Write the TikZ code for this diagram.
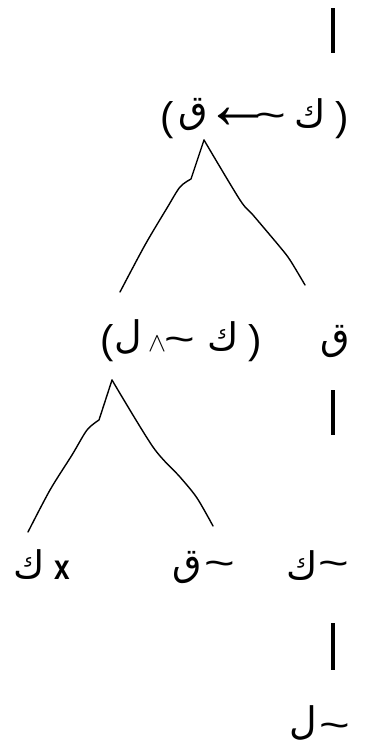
\documentclass[tikz,border=0pt]{standalone}
\usepackage{fontspec}
\usepackage{graphicx}
\setmainfont{Liberation Sans}
\newfontfamily\arabicfont[Script=Arabic]{DejaVu Sans}
\newcommand{\tld}{\scalebox{1.75}[1.3]{\char"007E}}
\tikzset{
  ar/.style={font=\arabicfont\fontsize{38}{46}\selectfont, inner sep=0pt, anchor=center},
  lat/.style={font=\fontsize{40}{48}\selectfont, inner sep=0pt, anchor=center},
  xl/.style={font=\bfseries\fontsize{28}{34}\selectfont, inner sep=0pt, anchor=center},
  sym/.style={inner sep=0pt, anchor=center},
  tl/.style={font=\fontsize{30}{36}\selectfont, inner sep=0pt, anchor=center},
  arr/.style={font=\fontsize{40}{48}\selectfont, inner sep=0pt, anchor=center},
  vbar/.style={line width=4pt},
  branch/.style={line width=1.4pt, line join=round, line cap=round},
}
\begin{document}
\begin{tikzpicture}[x=1pt,y=-1pt]
\useasboundingbox (0,0) rectangle (367,744);
% bar 1
\coordinate (b1t) at (333,8); \coordinate (b1b) at (333,53);
\draw[vbar] (b1t) -- (b1b);
% row 1
\node[lat] (r1p1) at (167,120) {(};
\node[ar]  (r1q)  at (193,115) {ق};
\node[arr] (r1ar) at (238,118) {\scalebox{1.7}[1.8]{←}};
\node[tl]  (r1t)  at (271,121) {\tld};
\node[ar]  (r1k)  at (310,114) {ك};
\node[lat] (r1p2) at (342,120) {)};
% tree 1
\coordinate (t1a) at (204,140);
\coordinate (t1k) at (191,179);
\draw[branch] (t1a) -- (t1k) plot[smooth, tension=0.5] coordinates {(191,179) (180,187) (167,208) (145,245) (120,292)};
\draw[branch] plot[smooth, tension=0.5] coordinates {(204,140) (240,200) (253,215) (280,247) (290,260) (305,285)};
% row 2
\node[lat] (r2p1) at (107,343) {(};
\node[ar]  (r2l)  at (128,337) {ل};
\node[sym] (r2w)  at (157,344) {\scalebox{2.7}{$\wedge$}};
\node[tl]  (r2t)  at (180,345) {\tld};
\node[ar]  (r2k)  at (223,337) {ك};
\node[lat] (r2p2) at (255,343) {)};
\node[ar]  (r2q)  at (335,342) {ق};
% bar 2
\coordinate (b2t) at (333,390); \coordinate (b2b) at (333,435);
\draw[vbar] (b2t) -- (b2b);
% tree 2
\coordinate (t2a) at (112,380);
\coordinate (t2k) at (99,420);
\draw[branch] (t2a) -- (t2k) plot[smooth, tension=0.5] coordinates {(99,420) (87,430) (72,455) (50,490) (28,532)};
\draw[branch] plot[smooth, tension=0.5] coordinates {(112,380) (153,447) (180,477) (197,498) (213,526)};
% row 3
\node[ar]  (r3k1) at (29,565) {ك};
\node[xl]  (r3x)  at (62,570) {\scalebox{1}[1.25]{x}};
\node[ar]  (r3q)  at (187,568) {ق};
\node[tl]  (r3t1) at (220,569) {\tld};
\node[ar]  (r3k2) at (302,566) {ك};
\node[tl]  (r3t2) at (334,569) {\tld};
% bar 3
\coordinate (b3t) at (333,623); \coordinate (b3b) at (333,670);
\draw[vbar] (b3t) -- (b3b);
% row 4
\node[ar]  (r4l) at (303,723) {ل};
\node[tl]  (r4t) at (335,731) {\tld};
\end{tikzpicture}
\end{document}
